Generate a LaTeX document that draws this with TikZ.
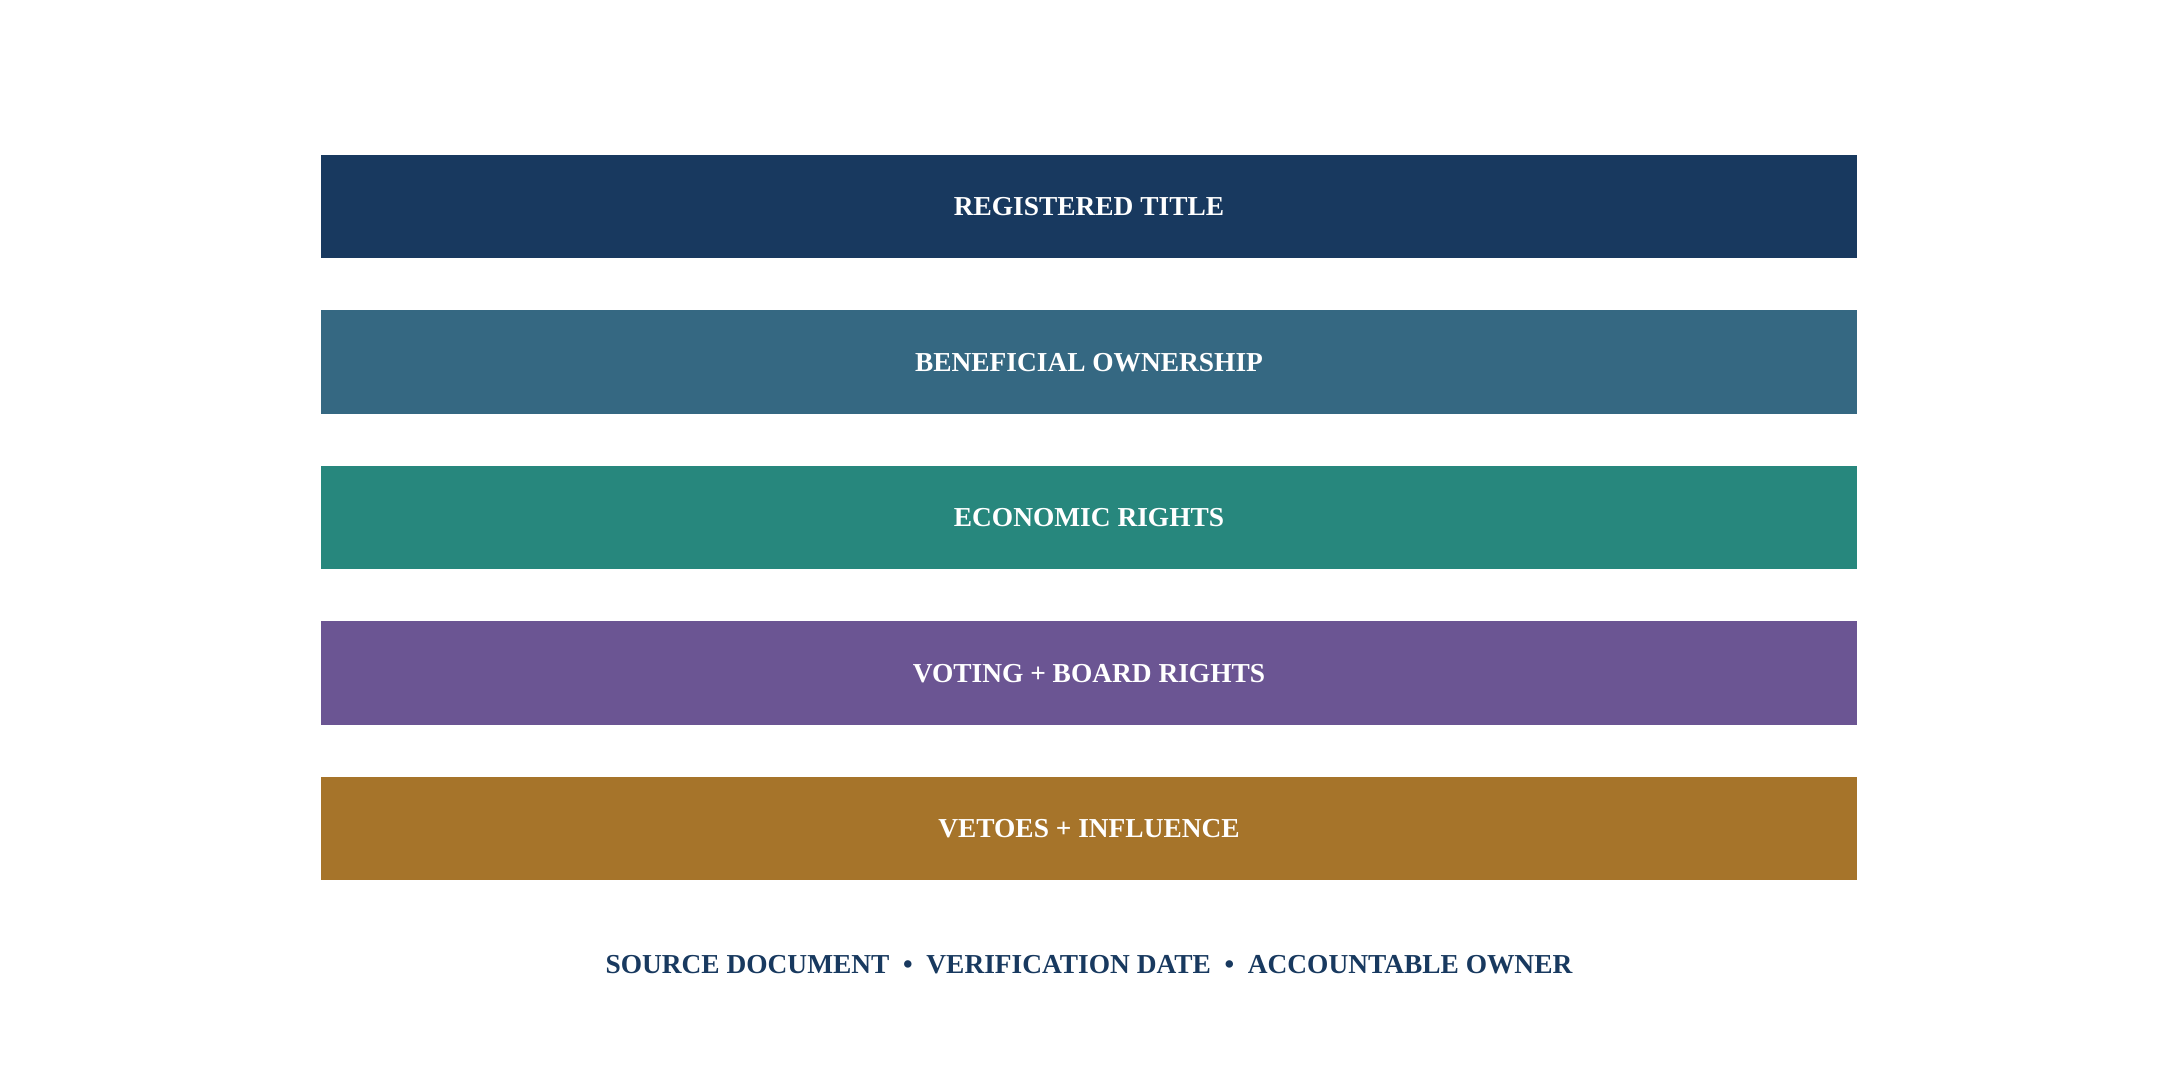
\documentclass[tikz,border=0pt]{standalone}
\usepackage{fontspec}
\setmainfont{Liberation Serif}
\usepackage{tikz}
\usetikzlibrary{positioning}
\definecolor{navy}{HTML}{18395F}
\definecolor{steel}{HTML}{356882}
\definecolor{teal}{HTML}{27877D}
\definecolor{plum}{HTML}{6B5593}
\definecolor{ochre}{HTML}{A6742A}

\begin{document}
\begin{tikzpicture}[x=0.5pt,y=-0.5pt,node distance=77.75pt,
    layer/.style={fill=#1,text=white,minimum width=768pt,minimum height=51.75pt,
      inner sep=0pt,font=\fontsize{13.7}{16}\selectfont\bfseries,
      text height=9pt,text depth=0pt}]
  \useasboundingbox (0,0) rectangle (2177,1077);
  \node[layer=navy]  (title)               at (1089,206.5) {REGISTERED TITLE};
  \node[layer=steel] (benef) [below of=title] {BENEFICIAL OWNERSHIP};
  \node[layer=teal]  (econ)  [below of=benef] {ECONOMIC RIGHTS};
  \node[layer=plum]  (vote)  [below of=econ]  {VOTING + BOARD RIGHTS};
  \node[layer=ochre] (veto)  [below of=vote]  {VETOES + INFLUENCE};

  \node[text=navy,font=\fontsize{13.7}{16}\selectfont\bfseries,text height=9pt,text depth=0pt]
    (footer) at (1089,964)
    {SOURCE DOCUMENT\enspace\textbullet\enspace VERIFICATION DATE\enspace\textbullet\enspace ACCOUNTABLE OWNER};
\end{tikzpicture}
\end{document}
